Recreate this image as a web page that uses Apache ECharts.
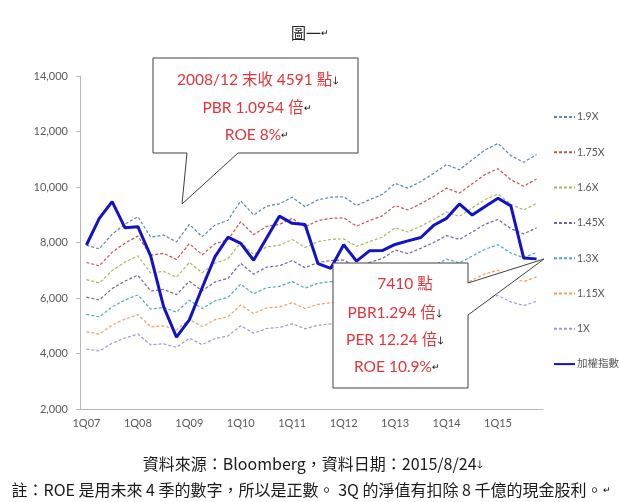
<!DOCTYPE html>
<html><head><meta charset="utf-8">
<script src="https://cdn.jsdelivr.net/npm/echarts@6/dist/echarts.min.js"></script>
<style>html,body{margin:0;padding:0;background:#fff}#c{width:620px;height:502px}</style>
</head><body><div id="c"></div>
<script>
const quarters = ['1Q07','2Q07','3Q07','4Q07','1Q08','2Q08','3Q08','4Q08','1Q09','2Q09','3Q09','4Q09',
  '1Q10','2Q10','3Q10','4Q10','1Q11','2Q11','3Q11','4Q11','1Q12','2Q12','3Q12','4Q12',
  '1Q13','2Q13','3Q13','4Q13','1Q14','2Q14','3Q14','4Q14','1Q15','2Q15','3Q15','4Q15'];
const pbr190 = [7900,7770,8300,8660,8930,8190,8270,8020,8650,8210,8630,8800,9500,8990,9310,9390,9630,9290,9540,9630,9650,9330,9540,9730,10130,9960,10200,10490,10810,10620,10980,11340,11570,11130,10890,11170];
const pbr175 = [7280,7160,7650,7980,8230,7540,7610,7390,7960,7560,7950,8100,8750,8280,8580,8650,8870,8560,8790,8870,8890,8590,8790,8960,9330,9170,9400,9660,9960,9780,10120,10450,10660,10260,10030,10290];
const pbr160 = [6660,6540,6990,7300,7520,6900,6960,6750,7280,6910,7260,7410,8000,7570,7840,7900,8110,7820,8030,8110,8130,7860,8030,8190,8530,8380,8590,8830,9100,8940,9250,9550,9740,9380,9170,9410];
const pbr145 = [6030,5930,6340,6610,6820,6250,6310,6120,6600,6260,6580,6710,7250,6860,7110,7160,7350,7090,7280,7350,7370,7120,7280,7420,7730,7600,7790,8000,8250,8110,8380,8660,8830,8500,8310,8530];
const pbr130 = [5410,5320,5680,5930,6110,5600,5660,5490,5920,5620,5900,6020,6500,6150,6370,6420,6590,6360,6530,6590,6600,6380,6530,6660,6930,6810,6980,7180,7400,7270,7510,7760,7920,7620,7450,7640];
const pbr115 = [4780,4700,5030,5240,5400,4960,5000,4850,5230,4970,5220,5320,5750,5440,5640,5680,5830,5620,5770,5830,5840,5650,5770,5890,6130,6030,6180,6350,6540,6430,6650,6870,7000,6740,6590,6760];
const pbr100 = [4160,4090,4370,4560,4700,4310,4350,4220,4550,4320,4540,4630,5000,4730,4900,4940,5070,4890,5020,5070,5080,4910,5020,5120,5330,5240,5370,5520,5690,5590,5780,5970,6090,5860,5730,5880];
const taiex = [7910,8870,9470,8530,8570,7510,5690,4591,5210,6370,7490,8190,7970,7360,8150,8950,8690,8650,7240,7070,7920,7330,7700,7710,7930,8060,8180,8620,8870,9390,8990,9300,9594,9320,7440,7410];
const bandNames = ['1.9X','1.75X','1.6X','1.45X','1.3X','1.15X','1X'];
const bandColors = ['#5a85b5','#bf5552','#a3bb62','#7a62a0','#4fa8c2','#f0a060','#9a9ad6'];
const indexName = '加權指數';

const latin = "Lato, 'Noto Sans CJK TC', sans-serif";
const cjk = "'Noto Sans CJK TC', Lato, sans-serif";
const bands = [pbr190, pbr175, pbr160, pbr145, pbr130, pbr115, pbr100];

const series = bands.map((d, i) => ({
  name: bandNames[i], type: 'line', data: d, symbol: 'none', showSymbol: false, z: 2,
  lineStyle: { color: bandColors[i], width: 1.2, type: [3, 2] },
  itemStyle: { color: bandColors[i] }
}));
series.push({
  name: indexName, type: 'line', data: taiex, symbol: 'none', showSymbol: false, z: 5,
  lineStyle: { color: '#1212c6', width: 3 }, itemStyle: { color: '#1212c6' }
});

const red = '#e2353a';
const mark = { color: '#9a9a9a', fontSize: 9, fontFamily: latin };
function txt(x, y, s, m) {
  return { type: 'text', x: x, y: y, z: 101,
    style: { text: '{a|' + s + '}' + (m ? '{m|' + m + '}' : ''), align: 'center', verticalAlign: 'middle',
      rich: { a: { fill: red, color: red, fontSize: 15.5, fontFamily: latin }, m: mark } } };
}

const chart = echarts.init(document.getElementById('c'));
chart.setOption({
  animation: false,
  backgroundColor: '#fff',
  grid: { left: 80, right: 77, top: 76, bottom: 93 },
  legend: {
    orient: 'vertical', left: 548, top: 106, itemWidth: 21, itemHeight: 10, itemGap: 23.3,
    itemStyle: { opacity: 0 },
    textStyle: { fontSize: 10.5, color: '#595959', fontFamily: latin, lineHeight: 12, padding: [0, 0, 0, -3] },
    data: bandNames.concat([indexName])
  },
  xAxis: {
    type: 'category', data: quarters, boundaryGap: true,
    axisLine: { lineStyle: { color: '#b8b8b8' } },
    axisTick: { interval: 0, length: 4, lineStyle: { color: '#b8b8b8' } },
    axisLabel: { interval: 3, color: '#595959', fontSize: 11, fontFamily: latin, margin: 9 }
  },
  yAxis: {
    type: 'value', min: 2000, max: 14000, interval: 2000,
    splitLine: { show: false },
    axisLine: { show: true, lineStyle: { color: '#b8b8b8' } },
    axisTick: { show: true, length: 4, lineStyle: { color: '#b8b8b8' } },
    axisLabel: { color: '#595959', fontSize: 11, fontFamily: latin, margin: 12,
      formatter: v => v.toLocaleString('en-US') }
  },
  series: series,
  graphic: [
    { type: 'text', x: 310, y: 33, z: 101, style: { text: '{a|圖一}{m|↵}', align: 'center', verticalAlign: 'middle',
      rich: { a: { fill: '#222', color: '#222', fontSize: 15, fontFamily: cjk }, m: mark } } },
    { type: 'polygon', z: 100, shape: { points: [[153,58],[358,58],[358,153],[238,153],[182,204],[187,153],[153,153]] },
      style: { fill: '#fff', stroke: '#404040', lineWidth: 1 } },
    txt(258, 80, '2008/12 末收 4591 點', '↓'),
    txt(257, 108, 'PBR 1.0954 倍', '↵'),
    txt(257, 135, 'ROE 8%', '↵'),
    { type: 'polygon', z: 100, shape: { points: [[333,263],[468,263],[468,283],[544,259],[468,315],[468,388],[333,388]] },
      style: { fill: '#fff', stroke: '#404040', lineWidth: 1 } },
    txt(405, 284, '7410 點', ''),
    txt(395, 313, 'PBR1.294 倍', '↓'),
    txt(395, 340, 'PER 12.24 倍', '↓'),
    txt(397, 367, 'ROE 10.9%', '↵'),
    { type: 'text', x: 313, y: 464, z: 101, style: { text: '{a|資料來源：Bloomberg，資料日期：2015/8/24}{m|↓}', align: 'center', verticalAlign: 'middle',
      rich: { a: { fill: '#1a1a1a', color: '#1a1a1a', fontSize: 16, fontFamily: cjk }, m: mark } } },
    { type: 'text', x: 311, y: 490, z: 101, style: { text: '{a|註：ROE 是用未來 4 季的數字，所以是正數。 3Q 的淨值有扣除 8 千億的現金股利。}{m|↵}', align: 'center', verticalAlign: 'middle',
      rich: { a: { fill: '#1a1a1a', color: '#1a1a1a', fontSize: 16, fontFamily: cjk }, m: mark } } }
  ]
});
</script></body></html>
